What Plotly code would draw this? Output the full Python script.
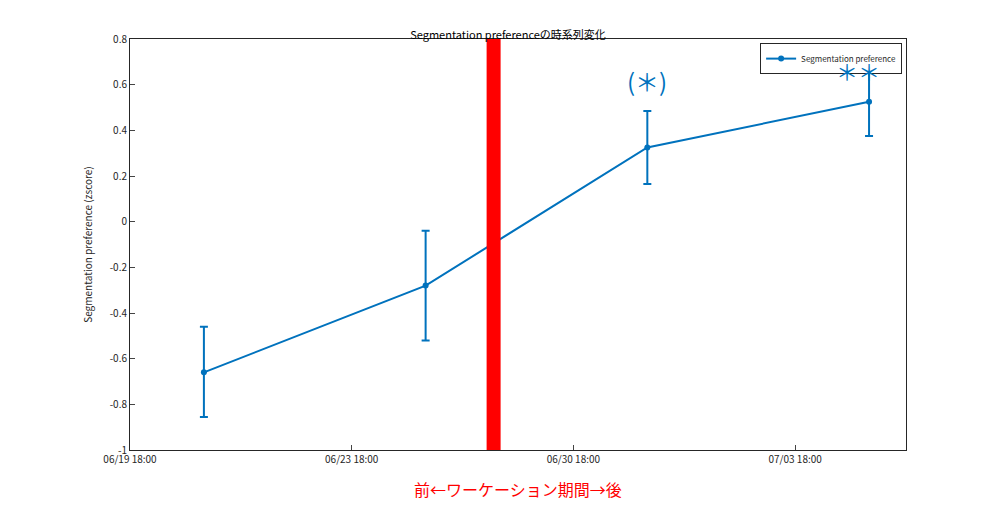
import plotly.graph_objects as go

tick_pos = [0, 1, 2, 3]
tick_labels = ["06/19 18:00", "06/23 18:00", "06/30 18:00", "07/03 18:00"]
y_ticks = [-1, -0.8, -0.6, -0.4, -0.2, 0, 0.2, 0.4, 0.6, 0.8]
y_tick_labels = ["-1", "-0.8", "-0.6", "-0.4", "-0.2", "0", "0.2", "0.4", "0.6", "0.8"]
x_pts = [1/3, 4/3, 7/3, 10/3]
y_vals = [-0.66, -0.28, 0.325, 0.525]
err_plus = [0.20, 0.24, 0.16, 0.15]
err_minus = [0.195, 0.24, 0.16, 0.15]
red_line_x = 1.64
blue = "#0072BD"

fig = go.Figure()
fig.add_trace(go.Scatter(
    x=x_pts, y=y_vals, mode="lines+markers", name="Segmentation preference",
    line=dict(color=blue, width=2), marker=dict(size=6, color=blue),
    error_y=dict(type="data", array=err_plus, arrayminus=err_minus,
                 color=blue, thickness=2, width=4)))
fig.add_shape(type="line", x0=red_line_x, x1=red_line_x, y0=0, y1=1, yref="paper",
              line=dict(color="red", width=14))
fig.add_annotation(x=x_pts[2], y=0.62, text="(＊)", showarrow=False,
                   font=dict(size=24, color=blue, family="Noto Sans CJK JP"))
fig.add_annotation(x=x_pts[3] - 0.05, y=0.665, text="＊＊", showarrow=False,
                   font=dict(size=22, color=blue, family="Noto Sans CJK JP"))
fig.add_annotation(x=0.5, y=-0.13, xref="paper", yref="paper",
                   text="前←ワーケーション期間→後", showarrow=False,
                   font=dict(size=16, color="red", family="Noto Sans CJK JP"))
fig.update_layout(
    width=1000, height=508, plot_bgcolor="white", paper_bgcolor="white",
    margin=dict(l=122, r=102, t=31, b=66),
    font=dict(family="Noto Sans CJK JP", size=10, color="#262626"),
    title=dict(text="Segmentation preferenceの時系列変化", x=0.5, y=0.955,
               xanchor="center", font=dict(size=11, color="black")),
    showlegend=True,
    legend=dict(x=0.995, y=0.99, xanchor="right", yanchor="top",
                bordercolor="#262626", borderwidth=1, bgcolor="white",
                font=dict(size=8), itemwidth=30, tracegroupgap=0),
    xaxis=dict(range=[0, 3.5], tickvals=tick_pos, ticktext=tick_labels,
               showgrid=False, zeroline=False, showline=True, linecolor="#262626",
               mirror=True, ticks="inside", ticklen=5),
    yaxis=dict(range=[-1, 0.8], tickvals=y_ticks, ticktext=y_tick_labels, showgrid=False,
               zeroline=False, showline=True, linecolor="#262626", mirror=True,
               ticks="inside", ticklen=5,
               title=dict(text="Segmentation preference (zscore)", font=dict(size=10))),
)
fig.write_html("out.html")
